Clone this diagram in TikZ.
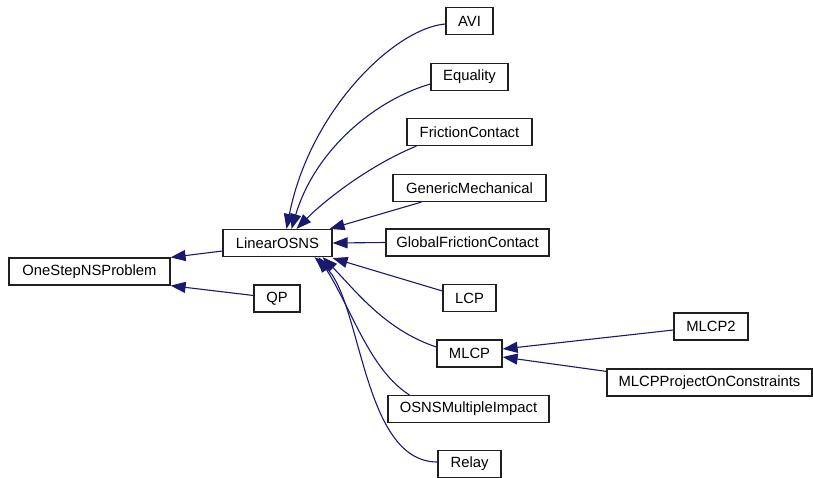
\documentclass[tikz,border=0pt]{standalone}
\usepackage{fontspec}
\setmainfont{Liberation Sans}
\usetikzlibrary{arrows.meta}
\definecolor{edgeblue}{HTML}{191970}
\definecolor{boxline}{HTML}{202020}
\begin{document}
\begin{tikzpicture}[x=1pt,y=-1pt,
  cls/.style={draw=boxline,fill=white,line width=1.2pt,inner sep=0pt,minimum height=27pt,
    font=\fontsize{14.8}{17}\selectfont},
  inh/.style={draw=edgeblue,line width=1.1pt,-{Triangle[length=15pt,width=11pt]}}]
\useasboundingbox (0,0) rectangle (813,477);
% nodes
\node[cls,minimum width=161pt] (osnp) at (89.5,271.5) {OneStepNSProblem};
\node[cls,minimum width=109pt] (lin) at (277.5,243) {LinearOSNS};
\node[cls,minimum width=46pt] (qp) at (277,298.5) {QP};
\node[cls,minimum width=47pt] (avi) at (469.5,21) {AVI};
\node[cls,minimum width=77pt] (eq) at (469.5,77) {Equality};
\node[cls,minimum width=125pt] (fc) at (469.5,132) {FrictionContact};
\node[cls,minimum width=153pt] (gm) at (469.5,188) {GenericMechanical};
\node[cls,minimum width=163pt] (gfc) at (467.5,242.5) {GlobalFrictionContact};
\node[cls,minimum width=53pt] (lcp) at (469.5,298) {LCP};
\node[cls,minimum width=65pt] (mlcp) at (469.5,353.5) {MLCP};
\node[cls,minimum width=161pt] (osmi) at (468.5,409) {OSNSMultipleImpact};
\node[cls,minimum width=63pt] (relay) at (469.5,464) {Relay};
\node[cls,minimum width=74pt] (mlcp2) at (711,326.5) {MLCP2};
\node[cls,minimum width=205pt] (mlcppc) at (709.5,382.5) {MLCPProjectOnConstraints};
% edges (arrow at parent)
\draw[inh] ([yshift=-8pt]lin.west) -- (osnp.north east);
\draw[inh] ([yshift=3pt]qp.west) -- (osnp.south east);
\draw[inh] ([yshift=-3pt]avi.west) .. controls (395,28) and (310,110) .. ([xshift=9pt]lin.north);
\draw[inh] ([yshift=-7pt]eq.west) .. controls (375,100) and (315,150) .. ([xshift=14pt]lin.north);
\draw[inh] ([xshift=10pt]fc.south west) .. controls (370,165) and (325,200) .. ([xshift=19pt]lin.north);
\draw[inh] ([xshift=29pt]gm.south west) -- ([xshift=-3pt]lin.north east);
\draw[inh] (gfc.west) -- (lin.east);
\draw[inh] ([yshift=7pt]lcp.west) -- ([yshift=-1pt]lin.south east);
\draw[inh] ([yshift=6.5pt]mlcp.west) .. controls (385,330) and (355,290) .. ([xshift=-10pt]lin.south east);
\draw[inh] ([xshift=22pt]osmi.north west) .. controls (370,370) and (352,310) .. ([xshift=-14pt]lin.south east);
\draw[inh] ([yshift=2pt]relay.west) .. controls (362,462) and (362,300) .. ([xshift=-18pt]lin.south east);
\draw[inh] ([yshift=-3.5pt]mlcp2.west) -- ([yshift=4.5pt]mlcp.east);
\draw[inh] ([yshift=-3pt]mlcppc.north west) -- ([yshift=-3.5pt]mlcp.east);
\end{tikzpicture}
\end{document}
